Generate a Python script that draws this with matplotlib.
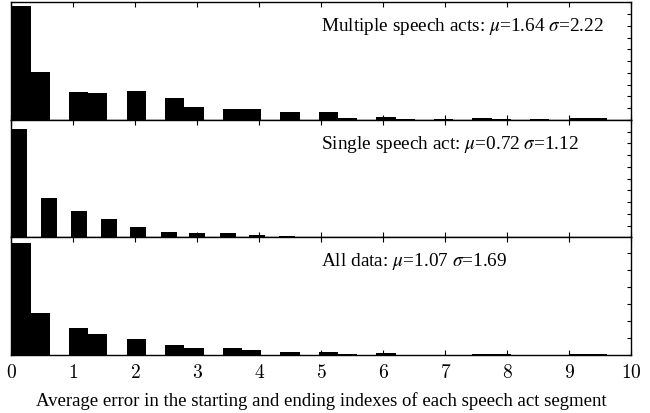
import matplotlib
matplotlib.use("Agg")
import matplotlib.pyplot as plt
from matplotlib.ticker import MultipleLocator

plt.rcParams["font.family"] = ["Liberation Serif", "DejaVu Serif"]

# histogram bins (left edge of each non-empty bin) and normalised heights
multi_left = [0.00, 0.31, 0.93, 1.24, 1.86, 2.48, 2.79, 3.41, 3.72, 4.34,
              4.96, 5.27, 5.89, 6.20, 6.82, 7.44, 7.75, 8.37, 8.99, 9.30]
multi_height = [0.971, 0.411, 0.240, 0.231, 0.246, 0.186, 0.106, 0.094, 0.094, 0.063,
                0.063, 0.017, 0.023, 0.006, 0.005, 0.017, 0.010, 0.005, 0.012, 0.012]

single_left = [0.00, 0.48, 0.96, 1.44, 1.92, 2.41, 2.87, 3.36, 3.84, 4.32,
               4.79, 5.28, 6.00, 7.97]
single_height = [0.925, 0.334, 0.221, 0.155, 0.090, 0.045, 0.038, 0.038, 0.024, 0.013,
                 0.007, 0.004, 0.006, 0.003]

all_left = multi_left
all_height = [1.308, 0.496, 0.316, 0.242, 0.190, 0.118, 0.084, 0.080, 0.060, 0.036,
              0.032, 0.012, 0.020, 0.006, 0.006, 0.010, 0.010, 0.006, 0.008, 0.008]

titles = [
    r"Multiple speech acts: $\mu$=1.64 $\sigma$=2.22",
    r"Single speech act: $\mu$=0.72 $\sigma$=1.12",
    r"All data: $\mu$=1.07 $\sigma$=1.69",
]
xticks = list(range(0, 11))
xlabel = "Average error in the starting and ending indexes of each speech act segment"

panels = [
    (multi_left, multi_height, 0.31, 1.0, 0.1),
    (single_left, single_height, 0.26, 1.0, 0.1),
    (all_left, all_height, 0.31, 1.378, 0.2),
]

fig = plt.figure(figsize=(6.5, 4.14), dpi=100)
gs = fig.add_gridspec(3, 1, left=0.0175, right=0.971, top=0.992, bottom=0.140, hspace=0)

for i, (left, height, width, ytop, ystep) in enumerate(panels):
    ax = fig.add_subplot(gs[i])
    ax.bar(left, height, width=width, align="edge", color="black", linewidth=0)
    ax.set_xlim(0, 10)
    ax.set_ylim(0, ytop)
    ax.set_xticks(xticks)
    ax.yaxis.set_major_locator(MultipleLocator(ystep))
    ax.tick_params(axis="x", direction="in", length=3.5, width=0.8, top=True, bottom=True)
    ax.tick_params(axis="y", direction="in", length=3, width=0.8, left=True, right=True,
                   labelleft=False)
    for s in ax.spines.values():
        s.set_linewidth(1.0)
    ax.text(0.5, 0.8, titles[i], transform=ax.transAxes, ha="left", va="center",
            fontsize=13.9, math_fontfamily="stix")
    if i < 2:
        ax.tick_params(axis="x", labelbottom=False)
    else:
        ax.set_xticklabels([f"${v}$" for v in xticks])
        for lab in ax.get_xticklabels():
            lab.set_math_fontfamily("cm")
            lab.set_fontsize(14)
        ax.tick_params(axis="x", pad=6)
        ax.set_xlabel(xlabel, fontsize=13.5, labelpad=7)

fig.savefig("out.png", dpi=100)
